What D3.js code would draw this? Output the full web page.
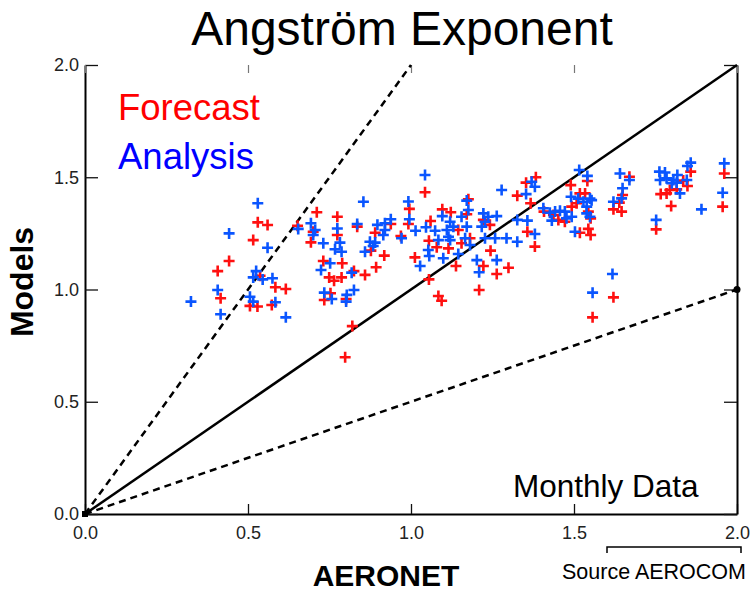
<!DOCTYPE html>
<html><head><meta charset="utf-8">
<script src="https://cdn.jsdelivr.net/npm/d3@7"></script>
<style>
body{margin:0;background:#fff;}
svg{display:block;font-family:"Liberation Sans",Arial,Helvetica,sans-serif;}
</style></head>
<body>
<svg id="c" width="751" height="594"></svg>
<script>
const titleText = "Angström Exponent";
const xLabel = "AERONET";
const yLabel = "Models";
const seriesNames = ["Forecast", "Analysis"];
const majorTicks = [0, 0.5, 1.0, 1.5, 2.0];
const minorTicks = [0.1,0.2,0.3,0.4,0.6,0.7,0.8,0.9,1.1,1.2,1.3,1.4,1.6,1.7,1.8,1.9];
const refLines = [{slope:1, dashed:false},{slope:2, dashed:true},{slope:0.5, dashed:true}];

const forecastX = [0.530,0.560,0.516,0.442,0.407,0.537,0.584,0.616,0.416,0.506,0.529,0.573,0.711,0.652,0.700,0.693,0.774,0.774,0.731,0.789,0.825,0.859,0.749,0.764,0.787,0.753,0.734,0.801,0.820,0.835,0.938,0.890,0.877,0.918,0.969,0.995,0.992,0.893,0.798,1.012,1.055,1.084,1.094,1.043,1.060,1.055,1.079,1.096,1.122,1.176,1.171,1.145,1.181,1.155,1.115,1.138,1.222,1.242,1.244,1.222,1.263,1.209,1.326,1.353,1.383,1.367,1.490,1.518,1.534,1.508,1.437,1.452,1.472,1.493,1.408,1.357,1.380,1.299,1.518,1.541,1.544,1.551,1.544,1.551,1.670,1.649,1.639,1.621,1.646,1.621,1.557,1.752,1.766,1.784,1.794,1.815,1.798,1.835,1.848,1.858,1.961,1.956];
const forecastY = [1.299,1.287,1.220,1.127,1.082,1.061,1.010,1.002,0.961,0.927,0.924,0.931,1.344,1.284,1.257,1.210,1.324,1.243,1.127,1.117,1.082,1.065,1.054,1.039,1.054,0.983,0.953,0.958,0.837,1.280,1.292,1.253,1.173,1.151,1.238,1.359,1.292,1.099,0.698,1.143,1.045,0.971,0.950,1.433,1.305,1.217,1.188,1.357,1.344,1.402,1.335,1.265,1.228,1.206,1.183,1.105,1.310,1.288,1.173,1.105,1.069,0.998,1.418,1.476,1.500,1.384,1.465,1.428,1.428,1.384,1.332,1.310,1.302,1.369,1.347,1.257,1.191,1.097,1.253,1.483,1.347,1.317,1.270,1.243,1.502,1.421,1.387,1.357,1.347,0.965,0.876,1.268,1.425,1.428,1.443,1.446,1.372,1.485,1.461,1.525,1.517,1.369];

const analysisX = [0.530,0.442,0.560,0.525,0.516,0.545,0.575,0.407,0.325,0.506,0.516,0.584,0.416,0.616,0.654,0.693,0.706,0.700,0.854,0.774,0.835,0.731,0.782,0.767,0.787,0.859,0.752,0.724,0.818,0.734,0.757,0.803,0.825,0.801,1.043,0.897,0.920,0.938,0.920,0.915,0.874,0.890,0.884,0.971,0.992,0.995,1.014,1.028,1.046,1.074,1.084,1.053,1.056,1.099,1.096,1.171,1.176,1.155,1.120,1.130,1.110,1.171,1.115,1.120,1.166,1.181,1.145,1.222,1.237,1.227,1.217,1.263,1.227,1.258,1.202,1.263,1.209,1.278,1.353,1.370,1.380,1.541,1.516,1.491,1.529,1.539,1.406,1.426,1.442,1.457,1.472,1.432,1.493,1.477,1.326,1.357,1.380,1.326,1.293,1.503,1.513,1.549,1.554,1.539,1.549,1.641,1.670,1.649,1.646,1.621,1.618,1.557,1.752,1.762,1.779,1.764,1.784,1.800,1.815,1.817,1.805,1.825,1.846,1.848,1.858,1.891,1.961,1.956];
const analysisY = [1.384,1.250,1.186,1.082,1.054,1.045,1.050,0.998,0.946,0.968,0.946,0.943,0.890,0.876,1.270,1.295,1.265,1.243,1.391,1.272,1.292,1.206,1.209,1.179,1.168,1.168,1.117,1.087,1.075,0.986,0.958,0.976,0.998,0.946,1.510,1.288,1.295,1.313,1.265,1.243,1.213,1.209,1.194,1.228,1.392,1.313,1.262,1.105,1.277,1.262,1.220,1.176,1.149,1.139,1.327,1.396,1.354,1.324,1.302,1.280,1.265,1.280,1.235,1.220,1.228,1.198,1.158,1.339,1.324,1.302,1.280,1.327,1.228,1.228,1.131,1.131,1.077,1.443,1.425,1.480,1.458,1.506,1.532,1.413,1.391,1.369,1.362,1.342,1.347,1.351,1.347,1.307,1.324,1.317,1.310,1.307,1.247,1.213,1.228,1.257,1.405,1.405,1.398,1.339,1.324,1.517,1.488,1.451,1.406,1.391,1.069,0.986,1.310,1.525,1.521,1.488,1.495,1.473,1.476,1.510,1.488,1.428,1.488,1.550,1.565,1.357,1.562,1.431];

(function () {
const svg = d3.select("#c");
const pL = 85, pR = 737, pT = 65, pB = 514;
const x = d3.scaleLinear().domain([0, 2]).range([pL, pR]);
const y = d3.scaleLinear().domain([0, 2]).range([pB, pT]);
const fmt = d3.format(".1f");

// title
svg.append("text").attr("x", 402).attr("y", 45).attr("text-anchor", "middle")
  .attr("font-size", 48).attr("fill", "#000").text(titleText);

// axes: bottom
const gB = svg.append("g").attr("transform", `translate(0,${pB})`);
gB.call(d3.axisBottom(x).tickValues(minorTicks).tickSize(-5).tickSizeOuter(0).tickFormat(""));
gB.call(d3.axisBottom(x).tickValues(majorTicks).tickSize(-10).tickSizeOuter(0).tickPadding(12).tickFormat(fmt));
// left
const gL = svg.append("g").attr("transform", `translate(${pL},0)`);
gL.call(d3.axisLeft(y).tickValues(minorTicks).tickSize(-6).tickSizeOuter(0).tickFormat(""));
gL.call(d3.axisLeft(y).tickValues(majorTicks).tickSize(-13).tickSizeOuter(0).tickPadding(6).tickFormat(fmt));
// right
const gR = svg.append("g").attr("transform", `translate(${pR},0)`);
gR.call(d3.axisRight(y).tickValues(minorTicks).tickSize(-6).tickSizeOuter(0).tickFormat(""));
gR.call(d3.axisRight(y).tickValues(majorTicks).tickSize(-13).tickSizeOuter(0).tickFormat(""));
// top (ticks only)
const gT = svg.append("g").attr("transform", `translate(0,${pT})`);
gT.call(d3.axisTop(x).tickValues(minorTicks).tickSize(-4).tickSizeOuter(0).tickFormat(""));
gT.call(d3.axisTop(x).tickValues(majorTicks).tickSize(-8).tickSizeOuter(0).tickFormat(""));
gT.selectAll(".domain").remove();
gT.selectAll(".tick line").attr("stroke", "#777").attr("stroke-width", 1.2);

[gB, gL, gR].forEach(g => {
  g.selectAll(".domain").attr("stroke", "#000").attr("stroke-width", 2);
  g.selectAll(".tick line").attr("stroke", "#111").attr("stroke-width", 1.3);
  g.selectAll(".tick text").attr("font-size", 18).attr("fill", "#222")
    .attr("font-family", "Liberation Sans, Arial, sans-serif");
});

// reference lines
svg.append("clipPath").attr("id", "pa").append("rect")
  .attr("x", pL).attr("y", pT - 2).attr("width", pR - pL + 2).attr("height", pB - pT + 4);
const gLines = svg.append("g").attr("clip-path", "url(#pa)");
refLines.forEach(r => {
  const xe = Math.min(2, 2 / r.slope);
  gLines.append("line")
    .attr("x1", x(0)).attr("y1", y(0)).attr("x2", x(xe)).attr("y2", y(r.slope * xe))
    .attr("stroke", "#000").attr("stroke-width", 2.5)
    .attr("stroke-dasharray", r.dashed ? "7,5" : null);
});
svg.append("rect").attr("x", x(0) - 3).attr("y", y(0) - 3).attr("width", 6).attr("height", 6).attr("fill", "#000");
svg.append("circle").attr("cx", x(2)).attr("cy", y(1)).attr("r", 3.5).attr("fill", "#000");

// points
const plus = "M-5.5,0H5.5M0,-5.5V5.5";
const fData = forecastX.map((v, i) => [v, forecastY[i]]);
const aData = analysisX.map((v, i) => [v, analysisY[i]]);
svg.append("g").selectAll("path").data(fData).join("path")
  .attr("d", plus).attr("transform", d => `translate(${x(d[0])},${y(d[1])})`)
  .attr("stroke", "#ff1010").attr("stroke-width", 2.6).attr("fill", "none");
svg.append("g").selectAll("path").data(aData).join("path")
  .attr("d", plus).attr("transform", d => `translate(${x(d[0])},${y(d[1])})`)
  .attr("stroke", "#0a55ff").attr("stroke-width", 2.6).attr("fill", "none");

// legend
svg.append("text").attr("x", 118).attr("y", 120).attr("font-size", 36.5).attr("fill", "#ff0000").text(seriesNames[0]);
svg.append("text").attr("x", 118).attr("y", 169).attr("font-size", 36.5).attr("fill", "#0000ff").text(seriesNames[1]);

// annotations
svg.append("text").attr("x", 513).attr("y", 497).attr("font-size", 31.5).attr("fill", "#000").text("Monthly Data");
svg.append("text").attr("transform", "translate(33,282) rotate(-90)").attr("text-anchor", "middle")
  .attr("font-size", 32).attr("font-weight", "bold").attr("fill", "#000").text(yLabel);
svg.append("text").attr("x", 386).attr("y", 586).attr("text-anchor", "middle")
  .attr("font-size", 30).attr("font-weight", "bold").attr("fill", "#000").text(xLabel);
svg.append("path").attr("d", "M607,553V547H741V553").attr("fill", "none").attr("stroke", "#000").attr("stroke-width", 1.5);
svg.append("text").attr("x", 562).attr("y", 579).attr("font-size", 21.5).attr("fill", "#000").text("Source AEROCOM");
})();
</script>
</body></html>
